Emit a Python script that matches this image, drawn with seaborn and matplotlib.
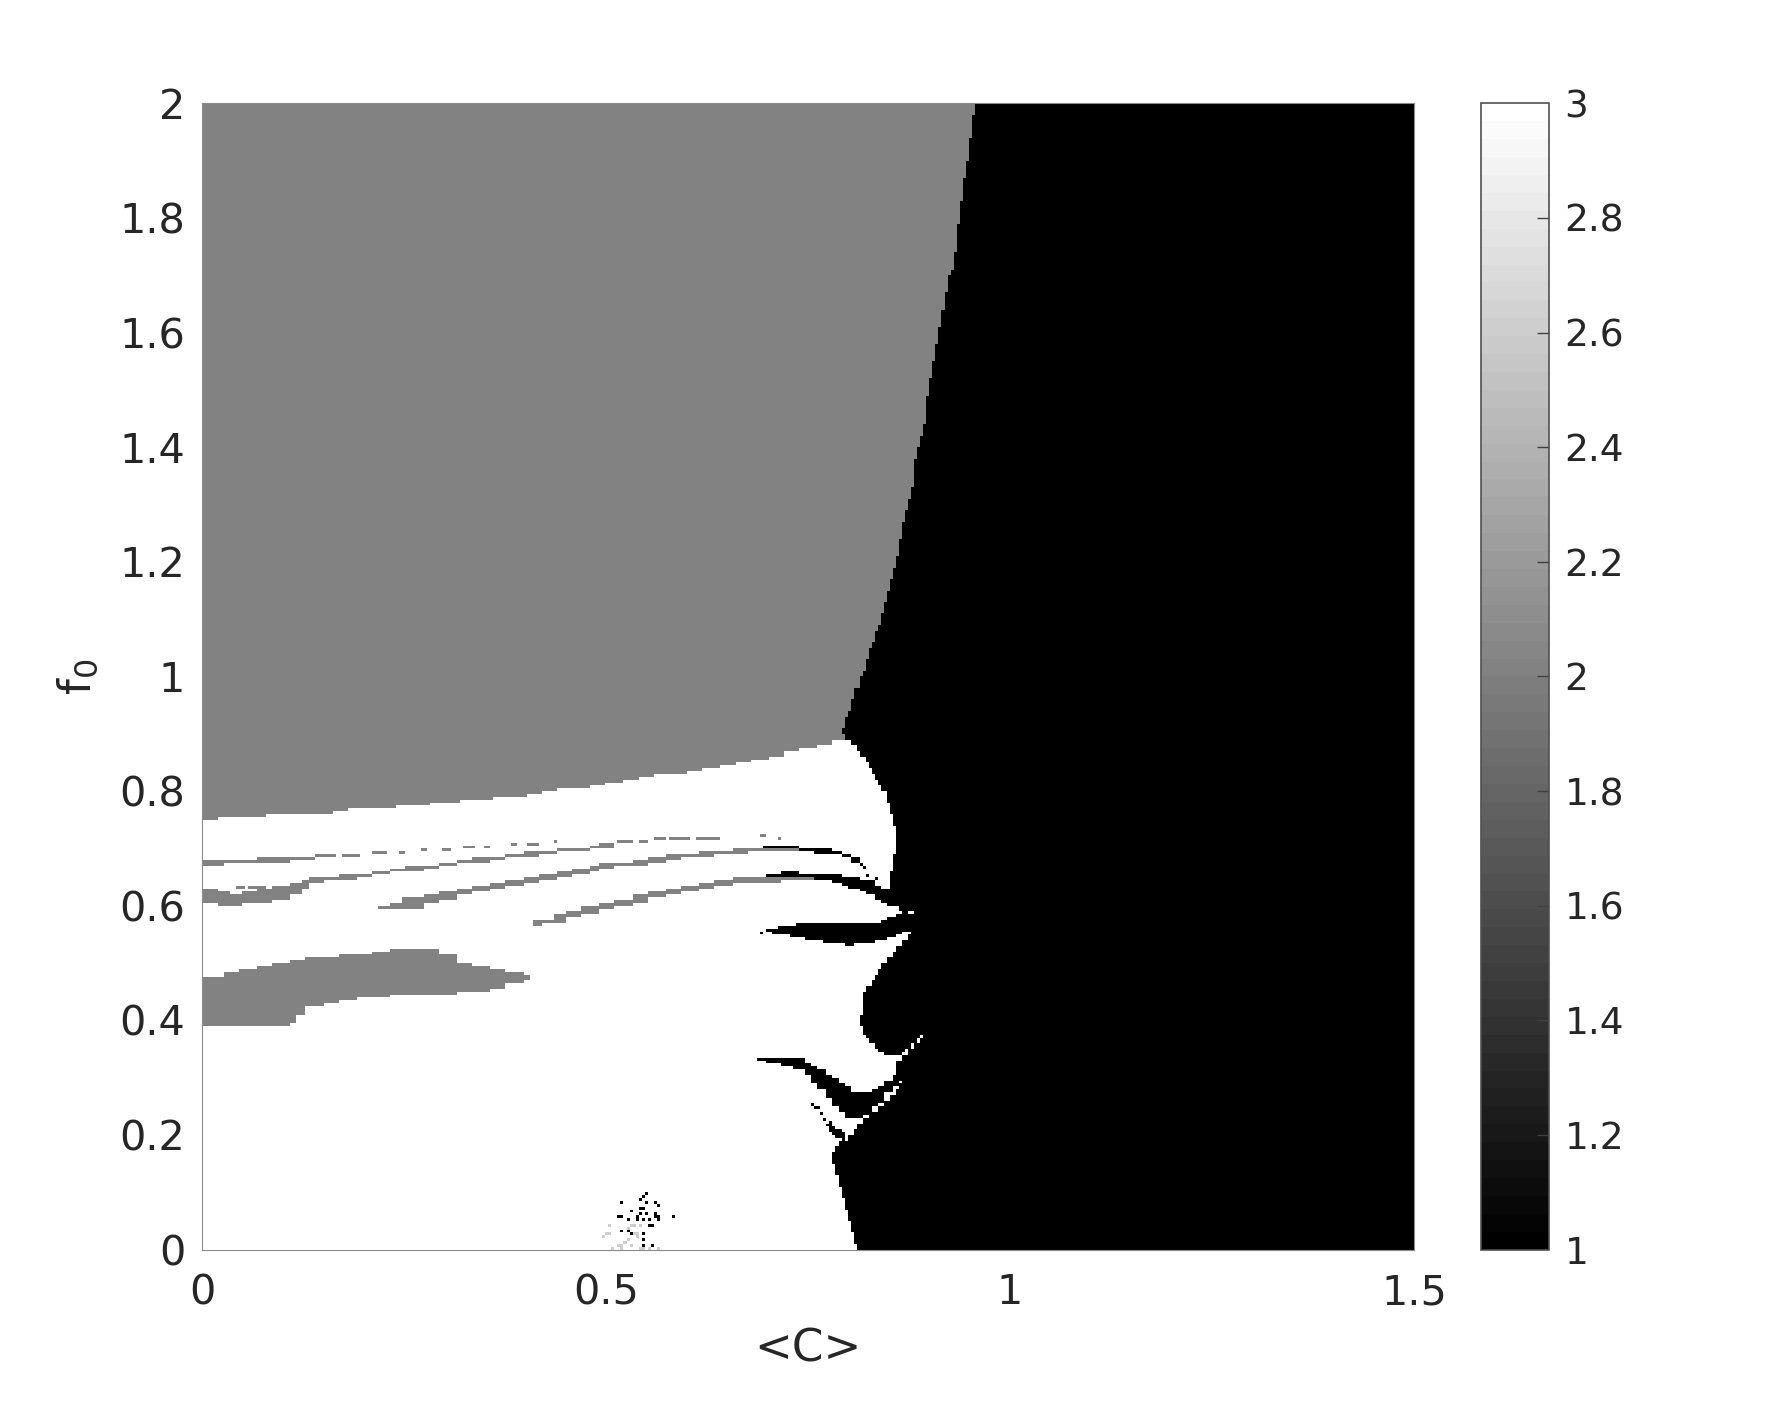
import numpy as np
import matplotlib
matplotlib.use("Agg")
import matplotlib.pyplot as plt
import seaborn as sns

# regime map: 1 = black, 2 = gray, 3 = white
N_C = 400
N_F = 400
C_MAX = 1.5
F_MAX = 2.0

x_ticks = [0, 0.5, 1, 1.5]
x_tick_labels = ["0", "0.5", "1", "1.5"]
y_ticks = [0, 0.2, 0.4, 0.6, 0.8, 1, 1.2, 1.4, 1.6, 1.8, 2]
y_tick_labels = ["0", "0.2", "0.4", "0.6", "0.8", "1", "1.2", "1.4", "1.6", "1.8", "2"]
cbar_ticks = [1, 1.2, 1.4, 1.6, 1.8, 2, 2.2, 2.4, 2.6, 2.8, 3]
cbar_tick_labels = ["1", "1.2", "1.4", "1.6", "1.8", "2", "2.2", "2.4", "2.6", "2.8", "3"]

# lower edge of the gray regime, per column
gray_c = [0, .02, .04, .06, .08, .10, .12, .14, .16, .18, .20, .22, .24, .26, .28, .30, .32, .34, .36, .38,
          .40, .42, .44, .46, .48, .50, .52, .54, .56, .58, .60, .62, .64, .66, .68, .70, .72, .74, .76, .78, .80]
gray_low = [.754, .755, .756, .758, .760, .761, .763, .764, .767, .770, .772, .774, .776, .778, .780, .782, .785, .788, .791, .794,
            .798, .801, .805, .809, .813, .817, .821, .825, .830, .834, .838, .843, .848, .853, .858, .864, .870, .876, .882, .890, .895]

# C where the black regime starts, one value per 0.01 of f0
black_edge_c = [
    .810, .808, .806, .804, .802, .800, .798, .796, .795, .793,
    .791, .789, .786, .784, .782, .780, .779, .782, .789, .798,
    .806, .811, .817, .826, .836, .844, .853, .860, .862, .866,
    .857, .858, .860, .867, .872, .880, .887, .892, .818, .815,
    .814, .816, .818, .818, .819, .823, .827, .831, .837, .841,
    .849, .855, .860, .866, .872, .878, .883, .883, .883, .863,
    .850, .840, .849, .850, .852, .853, .855, .855, .856, .857,
    .857, .857, .857, .857, .856, .854, .851, .850, .849, .846,
    .841, .837, .832, .828, .824, .820, .815, .809, .803, .795,
    .792, .794, .796, .799, .801, .803, .806, .808, .812, .815,
    .817, .820, .822, .824, .826, .829, .831, .833, .836, .839,
    .841, .843, .845, .847, .849, .851, .853, .855, .856, .858,
    .860, .861, .862, .864, .865, .866, .867, .869, .870, .872,
    .875, .876, .878, .880, .881, .881, .882, .883, .885, .886,
    .887, .889, .891, .893, .895, .896, .896, .897, .898, .899,
    .900, .901, .903, .904, .905, .907, .908, .909, .910, .912,
    .913, .914, .915, .916, .917, .918, .919, .921, .922, .923,
    .928, .930, .930, .931, .932, .932, .933, .934, .935, .936,
    .937, .938, .939, .941, .942, .943, .943, .944, .945, .946,
    .947, .948, .949, .950, .951, .952, .953, .954, .955, .956,
]

# gray islands and stripes: column start, top, bottom (last c closes the band)
blob_c = [0, .026, .046, .067, .0875, .108, .118, .129, .149, .170, .190, .211, .232, .252, .281, .293, .314, .335, .355, .376, .396, .405]
blob_high = [.475, .4867, .4925, .4966, .500, .504, .5059, .5082, .5117, .5146, .5175, .521, .5245, .5256, .5233, .5128, .5024, .4966, .4896, .4838, .478]
blob_low = [.3937, .3919, .3919, .3937, .3937, .3966, .411, .4256, .4344, .4373, .4402, .4431, .446, .446, .4489, .4489, .4518, .4547, .4576, .4652, .4721]

upper_c = [0, .0093, .0196, .034, .0505, .067, .0875, .108, .1246, .1328, .149, .170, .190, .211, .232, .252, .273, .293, .314, .335,
           .355, .376, .396, .417, .4375, .458, .4786, .491, .5116]
upper_high = [.6303, .6291, .6233, .6221, .6233, .6291, .6338, .6408, .6466, .6495, .6512, .6547, .657, .6617, .6658, .6687, .6716, .6756, .6797, .6832,
              .6861, .6896, .6931, .696, .6989, .7018, .7047, .7076]
upper_low = [.6088, .6082, .603, .603, .6059, .6088, .6146, .6216, .6303, .6408, .6454, .6495, .6524, .657, .6617, .6646, .6669, .6716, .6756, .6785,
             .6814, .6861, .6896, .6925, .6954, .6983, .7012, .7047]

top_line_c = [0, .026, .067, .108, .139]
top_line_high = [.6797, .6809, .6826, .6844]
top_line_low = [.6739, .6756, .678, .6803]

mid_c = [.2193, .2316, .2481, .2728, .2934, .314, .3345, .3551, .3757, .3963, .4169, .4375, .458, .4786, .491, .5116, .532, .5528, .5734, .594,
         .6145, .6351, .6557, .6763, .6969, .7174, .738, .745]
mid_high = [.6018, .607, .6128, .6187, .6245, .6291, .6349, .6408, .6466, .6512, .6547, .6594, .664, .6681, .6727, .6768, .6814, .6849, .6884, .692,
            .6948, .6971, .6989, .7, .7018, .7006, .6989]
mid_low = [.5989, .5954, .5971, .607, .614, .6204, .6268, .6338, .639, .6437, .6477, .6512, .657, .6623, .6669, .671, .6745, .6785, .6826, .6861,
           .689, .692, .6942, .696, .6977, .6977, .696]

low_c = [.4087, .421, .4334, .4498, .4704, .491, .5116, .532, .5528, .5734, .594, .6145, .6351, .6557, .6763, .6969, .7174, .738, .7586, .765]
low_high = [.5739, .5768, .5826, .5896, .5989, .6047, .6088, .6175, .6233, .6291, .6349, .6408, .6448, .6483, .6512, .6535, .6541, .6535, .6512]
low_low = [.5692, .571, .5739, .5814, .5896, .5971, .6012, .6088, .6163, .6204, .628, .6338, .6373, .6408, .6437, .6448, .6466, .6466, .6466]

# thin broken gray dashes: start, end, f0
dash_start = [.1390, .1727, .2090, .2440, .2687, .2975, .3242, .3490, .3819, .4025, .4362, .5137, .5384, .5569, .5775, .6104, .6886, .7133, .0402, .0546, .0649]
dash_end = [.1645, .1937, .2275, .2522, .2790, .3078, .3366, .3572, .3901, .4148, .4375, .5342, .5528, .5734, .6042, .6425, .6969, .7150, .0525, .0649, .0793]
dash_f0 = [.6873, .6896, .6925, .6948, .6971, .6995, .7024, .7047, .7076, .7099, .7123, .7111, .7134, .7157, .7181, .7198, .7204, .7187, .6315, .6326, .6315]

# black stripes
black_mid_c = [.6948, .7216, .7401, .7586, .7792, .7915, .8039, .8121, .8162, .82]
black_mid_high = [.7024, .7035, .7, .6977, .6942, .6902, .6844, .6774, .6698]
black_mid_low = [.7006, .7006, .6972, .6942, .6908, .6861, .6785, .6727, .665]

black_low_c = [.6969, .7174, .738, .7586, .7792, .7895, .7998, .8121, .8204, .8327, .8409, .8492, .8615, .8677, .875]
black_low_high = [.6553, .6582, .657, .6553, .6547, .6524, .6495, .6466, .6437, .6361, .6291, .6233, .6117, .6]
black_low_low = [.653, .6541, .6535, .6477, .6425, .6384, .6338, .628, .6245, .6146, .6076, .6, .5913, .5873]

fish_c = [.6969, .7051, .7134, .7257, .734, .7463, .7545, .7669, .7751, .7875, .7957, .808, .8163, .8245, .8327, .841, .8492, .8574, .8677, .8801, .885]
fish_high = [.5594, .5623, .5652, .5664, .5675, .5698, .5698, .5698, .5698, .5693, .5687, .5681, .5681, .5698, .5722, .5757, .5791, .5826, .5873, .5873]
fish_low = [.5553, .5536, .5518, .5489, .5466, .5448, .5431, .5396, .5379, .5355, .5344, .535, .5361, .5384, .5408, .5448, .5489, .5536, .5553, .5565]

swoosh_c = [.6865, .6968, .7051, .7174, .7298, .7462, .7545, .7627, .7709, .7792, .7874, .7956, .8039, .8162, .8286, .8368, .845, .8533, .8615, .87]
swoosh_high = [.3367, .3367, .3367, .3367, .3326, .3268, .3198, .314, .3064, .2989, .2907, .2832, .2762, .2744, .2803, .2872, .2948, .3047, .3163]
swoosh_low = [.3326, .3297, .3279, .3239, .3181, .3064, .2948, .2803, .2675, .2512, .2413, .2349, .2326, .2396, .2512, .2582, .2774, .2872, .2977]

tongue_c = [.8183, .8224, .8265, .8315, .8368, .843, .8492, .8574, .8656, .8718, .878, .8842, .8883, .892]
tongue_low = [.3791, .3704, .3617, .3541, .3471, .3431, .3413, .3425, .3471, .3547, .364, .371, .376]

island_c = [.773, .7771, .7812, .7853, .7895, .793]
island_high = [.2221, .2233, .2163, .2105, .2047]
island_low = [.2163, .2076, .2, .196, .1942]

# isolated points
speck_c = [.550, .544, .540, .521, .548, .560, .565, .540, .547, .530, .540, .548, .538, .517, .521, .527, .544, .560, .560, .564,
           .583, .565, .554, .538, .534, .552, .556, .521, .528, .530, .544, .547, .544, .547, .556,
           .7565, .7586, .7627, .7668, .7718, .8224, .8327, .692]
speck_f0 = [.0954, .0913, .0884, .0814, .0838, .0814, .0797, .071, .0721, .0692, .064, .0605, .0582, .0593, .0553, .0547, .0535, .0605, .0553, .0553,
            .0553, .0506, .0506, .0506, .0402, .0402, .0402, .0332, .032, .0291, .0285, .0187, .007, .007, .0053,
            .2541, .2483, .2454, .2367, .2279, .6524, .6494, .5536]
faint_c = [.503, .532, .536, .542, .527, .499, .503, .497, .534, .538, .538, .527, .524, .519, .517, .530, .507, .521, .552, .564, .540, .544]
faint_f0 = [.0448, .0448, .0448, .0402, .0373, .0291, .0291, .0245, .0274, .0291, .0227, .0187, .0117, .0088, .007, .007, .003, .003, .003, .003, .0012, .0012]

dc = C_MAX / N_C
df = F_MAX / N_F
grid = np.full((N_F, N_C), 3.0)


def fill_columns(c, low, high, value):
    for i in range(len(c) - 1):
        i0 = round(c[i] / dc)
        i1 = max(i0 + 1, round(c[i + 1] / dc))
        j0 = int(low[i] / df)
        j1 = max(j0 + 1, round(high[i] / df))
        grid[j0:j1, i0:i1] = value


fill_columns(gray_c + [.97], gray_low, [F_MAX] * len(gray_low), 2)
for k, edge in enumerate(black_edge_c):
    grid[2 * k:2 * k + 2, round(edge / dc):] = 1

fill_columns(blob_c, blob_low, blob_high, 2)
fill_columns(upper_c, upper_low, upper_high, 2)
fill_columns(top_line_c, top_line_low, top_line_high, 2)
fill_columns(mid_c, mid_low, mid_high, 2)
fill_columns(low_c, low_low, low_high, 2)
for s, e, f in zip(dash_start, dash_end, dash_f0):
    fill_columns([s, e], [f], [f], 2)

fill_columns(black_mid_c, black_mid_low, black_mid_high, 1)
fill_columns(black_low_c, black_low_low, black_low_high, 1)
fill_columns(fish_c, fish_low, fish_high, 1)
fill_columns(swoosh_c, swoosh_low, swoosh_high, 1)
fill_columns(tongue_c, tongue_low, [.38] * len(tongue_low), 1)
fill_columns(island_c, island_low, island_high, 1)

for c, f in zip(speck_c, speck_f0):
    grid[int(f / df), int(c / dc)] = 1
for c, f in zip(faint_c, faint_f0):
    grid[int(f / df), int(c / dc)] = 2.6

INK = "#262626"
plt.rcParams["font.family"] = "DejaVu Sans"
plt.rcParams["mathtext.default"] = "regular"

fig = plt.figure(figsize=(8.905, 7.03), dpi=200)
ax = fig.add_axes([.1137, .1112, .6802, .8153])
cax = fig.add_axes([.8316, .1112, .0379, .8153])

sns.heatmap(grid, cmap=plt.get_cmap("gray", 64), vmin=1, vmax=3, ax=ax, cbar_ax=cax,
            xticklabels=False, yticklabels=False)
ax.set_ylim(0, N_F)
ax.set_xlim(0, N_C)

ax.set_xticks([v / C_MAX * N_C for v in x_ticks])
ax.set_xticklabels(x_tick_labels, rotation=0)
ax.set_yticks([v / F_MAX * N_F for v in y_ticks])
ax.set_yticklabels(y_tick_labels, rotation=0)
ax.tick_params(axis="x", length=0, pad=8.5, labelsize=14.9, labelcolor=INK)
ax.tick_params(axis="y", length=0, pad=6.2, labelsize=14.9, labelcolor=INK)
for spine in ax.spines.values():
    spine.set_visible(True)
    spine.set_color("#8a8a8a")
    spine.set_linewidth(0.4)

ax.set_xlabel("<C>", fontsize=16.3, color=INK, labelpad=5)
ax.set_ylabel("$f_0$", fontsize=16.3, color=INK, labelpad=7)

cbar = ax.collections[0].colorbar
cbar.set_ticks(cbar_ticks)
cbar.set_ticklabels(cbar_tick_labels)
cbar.ax.tick_params(direction="in", length=4.3, width=0.5, color="#404040", pad=5.7,
                    labelsize=13.5, labelcolor=INK)
ticks = cbar.ax.yaxis.get_major_ticks()
ticks[0].tick2line.set_visible(False)
ticks[-1].tick2line.set_visible(False)
cbar.outline.set_visible(True)
cbar.outline.set_edgecolor("#505050")
cbar.outline.set_linewidth(0.6)

fig.savefig("out.png", dpi=200)
